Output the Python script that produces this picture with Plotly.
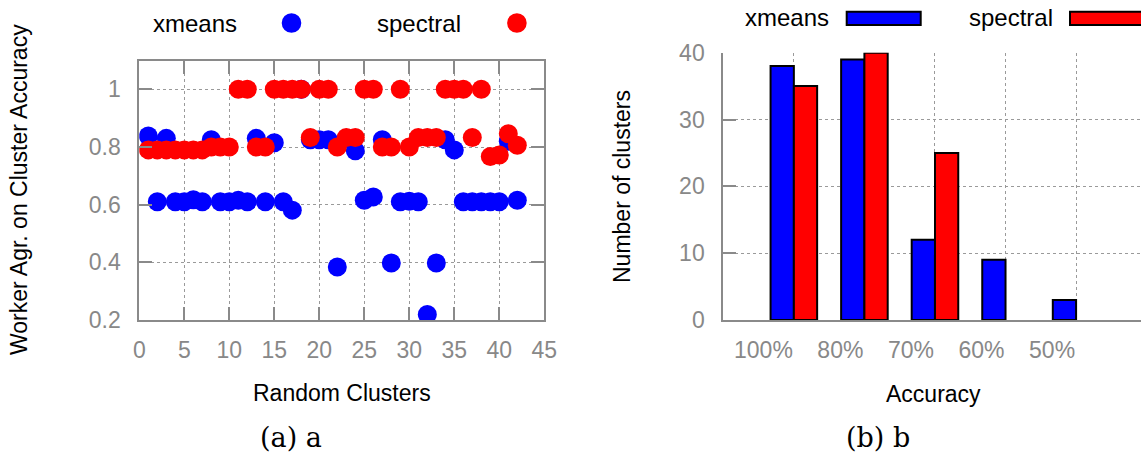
import plotly.graph_objects as go

# ---------------- data ----------------
cluster_ids = list(range(1, 43))
xmeans_agreement = [0.838, 0.61, 0.83, 0.61, 0.61, 0.617, 0.61, 0.825, 0.61, 0.61,
                    0.615, 0.61, 0.83, 0.61, 0.815, 0.61, 0.581, 1.0, 0.825, 0.825,
                    0.825, 0.384, 0.83, 0.787, 0.615, 0.627, 0.825, 0.398, 0.61, 0.612,
                    0.61, 0.219, 0.398, 0.825, 0.79, 0.61, 0.61, 0.61, 0.61, 0.61,
                    0.82, 0.615]
spectral_agreement = [0.79, 0.79, 0.79, 0.79, 0.79, 0.79, 0.79, 0.8, 0.8, 0.8,
                      1.0, 1.0, 0.8, 0.8, 1.0, 1.0, 1.0, 1.0, 0.833, 1.0,
                      1.0, 0.8, 0.833, 0.833, 1.0, 1.0, 0.8, 0.8, 1.0, 0.8,
                      0.833, 0.833, 0.833, 1.0, 1.0, 1.0, 0.833, 1.0, 0.767, 0.772,
                      0.846, 0.806]

accuracy_labels = ["100%", "80%", "70%", "60%", "50%"]
xmeans_counts = [38, 39, 12, 9, 3]
spectral_counts = [35, 40, 25, 0, 0]

left_xticks = [0, 5, 10, 15, 20, 25, 30, 35, 40, 45]
left_yticks = [0.2, 0.4, 0.6, 0.8, 1.0]
left_yticklabels = ["0.2", "0.4", "0.6", "0.8", "1"]
right_yticks = [0, 10, 20, 30, 40]

# ---------------- styles ----------------
W, H = 1141, 455
BLUE, RED = "#0000ff", "#ff0000"
AXIS = "#8a8a8a"
GRID = "#9a9a9a"
TICKFONT = dict(family="Liberation Sans, Arial, sans-serif", size=23, color="#888888")
TITLEFONT = dict(family="Liberation Sans, Arial, sans-serif", size=23, color="#000000")
CAPFONT = dict(family="DejaVu Serif, serif", size=27, color="#000000")


def px(x):
    return x / W


def py(y):
    return 1 - y / H


cat_pos = list(range(len(accuracy_labels)))

fig = go.Figure()

# left scatter
fig.add_trace(go.Scatter(x=cluster_ids, y=xmeans_agreement, mode="markers",
                         marker=dict(color=BLUE, size=19, line=dict(width=0)),
                         xaxis="x", yaxis="y", showlegend=False))
fig.add_trace(go.Scatter(x=cluster_ids, y=spectral_agreement, mode="markers",
                         marker=dict(color=RED, size=19, line=dict(width=0)),
                         xaxis="x", yaxis="y", showlegend=False))

# right bars
fig.add_trace(go.Bar(x=cat_pos, y=xmeans_counts, width=0.33, offset=-0.33,
                     marker=dict(color=BLUE, line=dict(color="black", width=2)),
                     xaxis="x2", yaxis="y2", showlegend=False))
fig.add_trace(go.Bar(x=cat_pos, y=[v if v > 0 else None for v in spectral_counts],
                     width=0.33, offset=0.0,
                     marker=dict(color=RED, line=dict(color="black", width=2)),
                     xaxis="x2", yaxis="y2", showlegend=False))

common_axis = dict(showline=True, linecolor=AXIS, linewidth=2, ticks="inside",
                   ticklen=13, tickwidth=2, tickcolor=AXIS, tickfont=TICKFONT,
                   showgrid=True, gridcolor=GRID, griddash="dot", gridwidth=1,
                   zeroline=False, automargin=False)

fig.update_layout(
    template="none",
    width=W, height=H, margin=dict(l=0, r=0, t=0, b=0, pad=0, autoexpand=False),
    paper_bgcolor="white", plot_bgcolor="white", barmode="overlay", showlegend=False,
    xaxis=dict(common_axis, domain=[px(139.3), px(544.3)], range=[0, 45],
               tickvals=left_xticks, mirror="ticks", anchor="y",
               ticklabelstandoff=8),
    yaxis=dict(common_axis, domain=[py(320), py(60.5)], range=[0.2, 1.1],
               tickvals=left_yticks, ticktext=left_yticklabels, mirror="ticks",
               anchor="x", ticklabelstandoff=12),
    xaxis2=dict(common_axis, domain=[px(723.3), 1.0], range=[-1, 4.92],
                tickvals=cat_pos, ticktext=accuracy_labels, ticks="",
                ticklabelposition="outside left", anchor="y2",
                ticklabelstandoff=8),
    yaxis2=dict(common_axis, domain=[py(320), py(52.7)], range=[0, 40],
                tickvals=right_yticks, anchor="x2", ticklabelstandoff=12),
)

ann = []
# axis titles
ann.append(dict(text="Random Clusters", x=px(341.8), y=py(393), showarrow=False,
                xref="paper", yref="paper", font=TITLEFONT, xanchor="center", yanchor="middle"))
ann.append(dict(text="Worker Agr. on Cluster Accuracy", x=px(19), y=py(190), showarrow=False,
                xref="paper", yref="paper", font=TITLEFONT, textangle=-90,
                xanchor="center", yanchor="middle"))
ann.append(dict(text="Accuracy", x=px(933), y=py(394), showarrow=False,
                xref="paper", yref="paper", font=TITLEFONT, xanchor="center", yanchor="middle"))
ann.append(dict(text="Number of clusters", x=px(622), y=py(187), showarrow=False,
                xref="paper", yref="paper", font=TITLEFONT, textangle=-90,
                xanchor="center", yanchor="middle"))
# captions
ann.append(dict(text="(a) a", x=px(291), y=py(437), showarrow=False,
                xref="paper", yref="paper", font=CAPFONT, xanchor="center", yanchor="middle"))
ann.append(dict(text="(b) b", x=px(878), y=py(437), showarrow=False,
                xref="paper", yref="paper", font=CAPFONT, xanchor="center", yanchor="middle"))
# legend texts
LEGFONT = dict(family="Liberation Sans, Arial, sans-serif", size=24, color="#000000")
ann.append(dict(text="xmeans", x=px(238.5), y=py(23), showarrow=False, xref="paper", yref="paper",
                font=LEGFONT, xanchor="right", yanchor="middle"))
ann.append(dict(text="spectral", x=px(463), y=py(23), showarrow=False, xref="paper", yref="paper",
                font=LEGFONT, xanchor="right", yanchor="middle"))
ann.append(dict(text="xmeans", x=px(831), y=py(18), showarrow=False, xref="paper", yref="paper",
                font=LEGFONT, xanchor="right", yanchor="middle"))
ann.append(dict(text="spectral", x=px(1055), y=py(18), showarrow=False, xref="paper", yref="paper",
                font=LEGFONT, xanchor="right", yanchor="middle"))
fig.update_layout(annotations=ann)

shapes = []
# legend symbols (left: dots, right: boxes)
r = 9.8
for cx, col in [(291.5, BLUE), (516.9, RED)]:
    shapes.append(dict(type="circle", xref="paper", yref="paper",
                       x0=px(cx - r), x1=px(cx + r), y0=py(23 + r), y1=py(23 - r),
                       fillcolor=col, line=dict(width=0)))
for x0, x1, col in [(846.7, 920.7, BLUE), (1070, 1146, RED)]:
    shapes.append(dict(type="rect", xref="paper", yref="paper",
                       x0=px(x0), x1=px(x1), y0=py(25), y1=py(11.7),
                       fillcolor=col, line=dict(color="black", width=2)))
fig.update_layout(shapes=shapes)

fig.write_html("out.html",
               config={"displayModeBar": False},
               post_script="document.body.style.margin='0px';"
                           "document.body.style.overflow='hidden';")
